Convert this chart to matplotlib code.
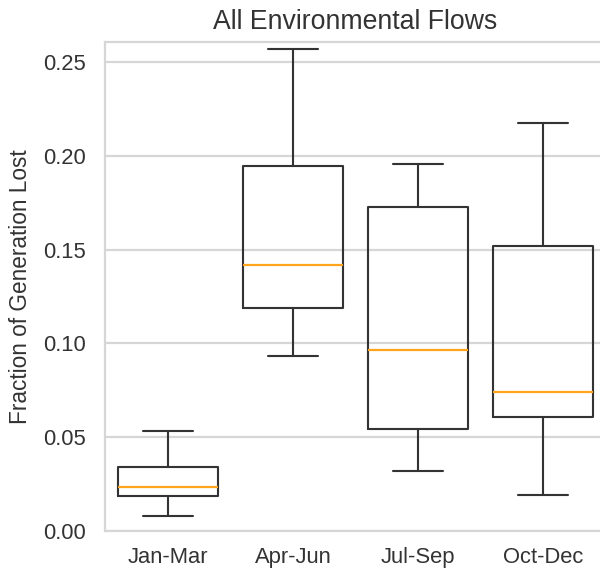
import numpy as np
import matplotlib
matplotlib.use("Agg")
import matplotlib.pyplot as plt
import seaborn as sns

sns.set_style("whitegrid")
plt.rcParams['font.family'] = ['Liberation Sans', 'DejaVu Sans']

# quarterly summary of the fraction of generation lost
seasons = ["Jan-Mar", "Apr-Jun", "Jul-Sep", "Oct-Dec"]
whislo = [0.0080, 0.0933, 0.0320, 0.0192]
q1 = [0.0187, 0.1189, 0.0544, 0.0608]
med = [0.0235, 0.1418, 0.0965, 0.0741]
q3 = [0.0341, 0.1946, 0.1727, 0.1519]
whishi = [0.0533, 0.2570, 0.1956, 0.2175]

stats = []
for i, name in enumerate(seasons):
    stats.append(dict(label=name, whislo=whislo[i], q1=q1[i], med=med[i],
                      q3=q3[i], whishi=whishi[i], fliers=[]))

dpi = 160
fig = plt.figure(figsize=(600 / dpi, 569 / dpi), dpi=dpi)
ax = fig.add_axes([105 / 600, 1 - 531 / 569, 501 / 600, 489 / 569])

line = dict(color='#333333', linewidth=0.95)
ax.bxp(stats, widths=0.8, showfliers=False,
       boxprops=line, whiskerprops=line, capprops=line,
       medianprops=dict(color='#ffa41c', linewidth=1.0))

ax.set_xlim(0.5, 4.5)
ax.set_ylim(0, 0.2606)
ax.set_yticks([0.0, 0.05, 0.10, 0.15, 0.20, 0.25])
ax.yaxis.set_major_formatter(matplotlib.ticker.FormatStrFormatter('%.2f'))
ax.grid(axis='x', visible=False)
ax.grid(axis='y', color='#d6d6d6', linewidth=1.0)
for s in ax.spines.values():
    s.set_color('#d6d6d6')
    s.set_linewidth(1.0)

ax.tick_params(axis='both', length=0, labelsize=9.9, colors='#333333')
ax.tick_params(axis='y', pad=8.5)
ax.tick_params(axis='x', pad=7)
ax.set_ylabel("Fraction of Generation Lost", fontsize=10.2, color='#333333', labelpad=5)
ax.set_title("All Environmental Flows", fontsize=12, color='#333333', pad=6)

fig.savefig("out.png", dpi=dpi)
